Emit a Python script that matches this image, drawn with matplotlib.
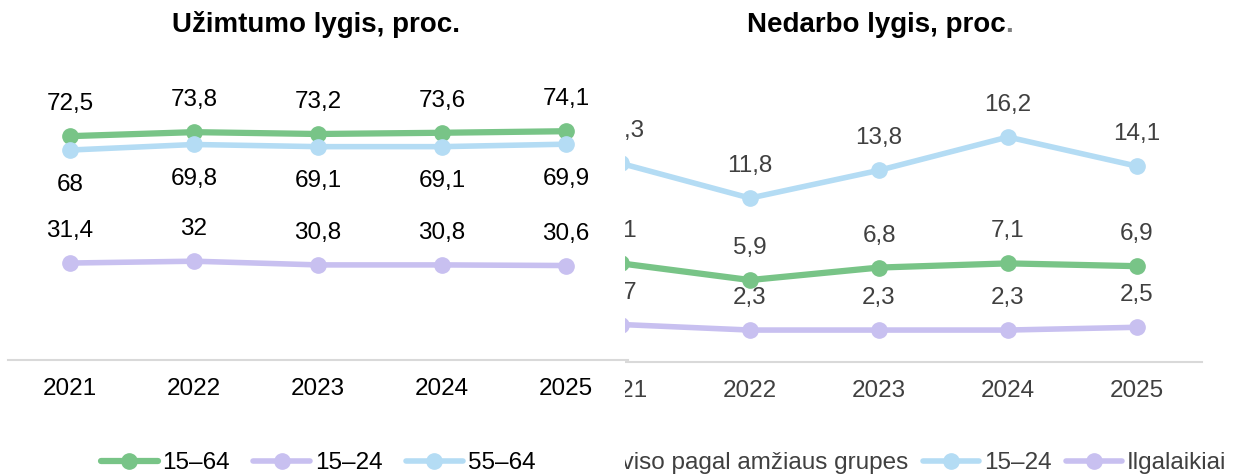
import matplotlib.pyplot as plt
from matplotlib.patches import Rectangle

plt.rcParams['font.family'] = ['Liberation Sans', 'DejaVu Sans']

# duomenys
years = ['2021', '2022', '2023', '2024', '2025']

emp_15_64 = [72.5, 73.8, 73.2, 73.6, 74.1]
emp_15_24 = [31.4, 32.0, 30.8, 30.8, 30.6]
emp_55_64 = [68.0, 69.8, 69.1, 69.1, 69.9]

unemp_total = [7.1, 5.9, 6.8, 7.1, 6.9]
unemp_15_24 = [14.3, 11.8, 13.8, 16.2, 14.1]
unemp_long = [2.7, 2.3, 2.3, 2.3, 2.5]

GREEN = '#78C487'
BLUE = '#B4DCF4'
PURPLE = '#C8C0F0'
W, H = 1237, 475
FS = 17.5


def fmt(v):
    return ('%g' % v).replace('.', ',')


def series(ax, vals, color, label, lw, below=False, tcolor='black'):
    x = list(range(len(vals)))
    line, = ax.plot(x, vals, color=color, lw=lw, marker='o', ms=11,
                    label=label, solid_capstyle='round')
    for xi, v in zip(x, vals):
        ax.annotate(fmt(v), (xi, v), xytext=(0, -25 if below else 23),
                    textcoords='offset points', ha='center', va='center',
                    fontsize=FS, color=tcolor)
    return line


def style(ax, tcolor):
    ax.set_xlim(-0.5, 4.5)
    for s in ['top', 'right', 'left']:
        ax.spines[s].set_visible(False)
    ax.spines['bottom'].set_color('#D9D9D9')
    ax.spines['bottom'].set_linewidth(1.5)
    ax.set_yticks([])
    ax.set_xticks(range(len(years)), years)
    ax.tick_params(axis='x', length=0, pad=13, labelsize=FS,
                   labelcolor=tcolor)
    ax.patch.set_visible(False)


fig = plt.figure(figsize=(W / 100, H / 100), dpi=100)

# kairė: užimtumas
ax1 = fig.add_axes([8 / W, 115 / H, 620 / W, 247 / H])
ax1.set_ylim(0, 80)
series(ax1, emp_15_64, GREEN, '15–64', 4.5)
series(ax1, emp_15_24, PURPLE, '15–24', 4)
series(ax1, emp_55_64, BLUE, '55–64', 4, below=True)
style(ax1, 'black')
fig.text(316 / W, 1 - 25 / H, 'Užimtumo lygis, proc.', ha='center',
         va='center', fontsize=20, fontweight='bold')
fig.legend(handles=ax1.get_lines(), loc='center', ncol=3,
           bbox_to_anchor=(318 / W, 12 / H), frameon=False, fontsize=FS,
           handlelength=2.35, handletextpad=0.2, columnspacing=0.95)

# dešinė: nedarbas (nukirpta kairėje)
ax2 = fig.add_axes([556.5 / W, 113 / H, 645 / W, 250 / H])
ax2.set_ylim(0, 18)
TC = '#404040'
series(ax2, unemp_total, GREEN, 'Iš viso pagal amžiaus grupes', 4.5, tcolor=TC)
series(ax2, unemp_15_24, BLUE, '15–24', 4, tcolor=TC)
series(ax2, unemp_long, PURPLE, 'Ilgalaikiai', 4, tcolor=TC)
style(ax2, TC)
t = fig.text(876 / W, 1 - 25 / H, 'Nedarbo lygis, proc', ha='center',
             va='center', fontsize=20, fontweight='bold')
dot = fig.text(0, 0, '.', fontsize=20, fontweight='bold', color='#7F7F7F')
leg2 = fig.legend(handles=ax2.get_lines(), loc='center right', ncol=3,
                  bbox_to_anchor=(1236 / W, 12 / H), borderaxespad=0,
                  frameon=False, fontsize=FS, handlelength=2.3,
                  handletextpad=0.2, columnspacing=0.6, labelcolor=TC)

fig.canvas.draw()
# taškas po antrašte
bb = t.get_window_extent()
dot.set_position((bb.x1 / W, bb.y0 / H))
dot.set_va('bottom')

clip = Rectangle((625 / W, 0), 1, 1, transform=fig.transFigure)
for a in ax2.findobj() + leg2.findobj():
    if a is ax2 or a is ax2.patch:
        continue
    a.set_clip_path(clip)
    a.set_clip_on(True)

fig.savefig('out.png', dpi=100, facecolor='white')
